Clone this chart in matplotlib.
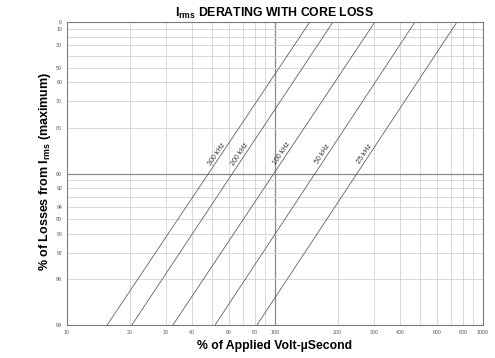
import numpy as np
import matplotlib
matplotlib.use("Agg")
import matplotlib.pyplot as plt

plt.rcParams['font.family'] = ['Liberation Sans', 'DejaVu Sans']
plt.rcParams['mathtext.fontset'] = 'custom'
plt.rcParams['mathtext.rm'] = 'Liberation Sans'
plt.rcParams['mathtext.bf'] = 'Liberation Sans:bold'
plt.rcParams['mathtext.it'] = 'Liberation Sans:italic'

# ---- data ----
freq_labels = ["300 kHz", "200 kHz", "100 kHz", "50 kHz", "25 kHz"]
x_at_99 = [15.6, 20.5, 32.3, 51.5, 81.9]      # volt-µs % where loss curve hits 99
x_at_0 = [147, 190, 302, 471, 750]            # volt-µs % where loss curve hits 0
y_ends = [99, 0]

x_ticks = [10, 20, 30, 40, 60, 80, 100, 200, 300, 400, 600, 800, 1000]
x_grid = [10, 20, 30, 40, 50, 60, 70, 80, 90, 100, 200, 300, 400, 500, 600, 700, 800, 900, 1000]
y_ticks = [0, 10, 30, 50, 60, 70, 80, 90, 92, 94, 95, 96, 97, 98, 99]
y_grid = [0, 10, 20, 30, 40, 50, 60, 70, 80, 90, 91, 92, 93, 94, 95, 96, 97, 98, 99]
label_level = 87

# ---- figure ----
fig = plt.figure(figsize=(4.95, 3.58), dpi=100)
ax = fig.add_axes([67/495, 1-325/358, (483-67)/495, (325-22)/358])

def fwd(y):
    y = np.asarray(y, dtype=float)
    return -np.log10(np.clip(100.0 - y, 1e-6, None))

def inv(v):
    return 100.0 - 10 ** (-np.asarray(v, dtype=float))

ax.set_xscale('log')
ax.set_yscale('function', functions=(fwd, inv))
ax.set_xlim(10, 1000)
ax.set_ylim(99, 0)

# grid
for gx in x_grid:
    if gx == 100:
        ax.axvline(gx, color='#8a8a8a', lw=0.9, zorder=1)
    else:
        ax.axvline(gx, color='#d2d2d2', lw=0.6, zorder=1)
for gy in y_grid:
    if gy == 90:
        ax.axhline(gy, color='#8a8a8a', lw=0.9, zorder=1)
    else:
        ax.axhline(gy, color='#d2d2d2', lw=0.6, zorder=1)

# curves
for lab, xa, xb in zip(freq_labels, x_at_99, x_at_0):
    ax.plot([xa, xb], y_ends, color='#555555', lw=0.55, zorder=3)

fig.canvas.draw()
for lab, xa, xb in zip(freq_labels, x_at_99, x_at_0):
    p0 = ax.transData.transform((xa, 99))
    p1 = ax.transData.transform((xb, 0))
    ang = np.degrees(np.arctan2(p1[1]-p0[1], p1[0]-p0[0]))
    t = (fwd(label_level) - fwd(99)) / (fwd(0) - fwd(99))
    lx = 10 ** (np.log10(xa) + t * (np.log10(xb) - np.log10(xa)))
    ux, uy = -np.sin(np.radians(ang)), np.cos(np.radians(ang))
    off = 3.0
    ax.annotate(lab, (lx, label_level), xytext=(ux*off, uy*off), textcoords='offset points',
                rotation=ang, rotation_mode='anchor', ha='center', va='center',
                fontsize=5.0, color='#333333', zorder=4)

ax.set_xticks(x_ticks)
ax.set_xticklabels([str(v) for v in x_ticks])
ax.xaxis.set_minor_locator(matplotlib.ticker.NullLocator())
ax.set_yticks(y_ticks)
ax.set_yticklabels([str(v) for v in y_ticks])
ax.yaxis.set_minor_locator(matplotlib.ticker.NullLocator())
ax.tick_params(axis='both', length=0, labelsize=3.8, colors='#555555', pad=3.5)

for s in ax.spines.values():
    s.set_color('#7a7a7a')
    s.set_linewidth(0.8)
    s.set_zorder(5)

fig.text(274/495, 1-13/358, r"I$_\mathbf{rms}$ DERATING WITH CORE LOSS",
         ha='center', va='center', fontsize=8.8, fontweight='bold')
fig.text(275/495, 1-346/358, "% of Applied Volt-µSecond",
         ha='center', va='center', fontsize=8.8, fontweight='bold')
fig.text(45/495, 1-171/358, r"% of Losses from I$_\mathbf{rms}$ (maximum)",
         ha='center', va='center', fontsize=9, fontweight='bold', rotation=90)

fig.savefig("out.png", dpi=100)
